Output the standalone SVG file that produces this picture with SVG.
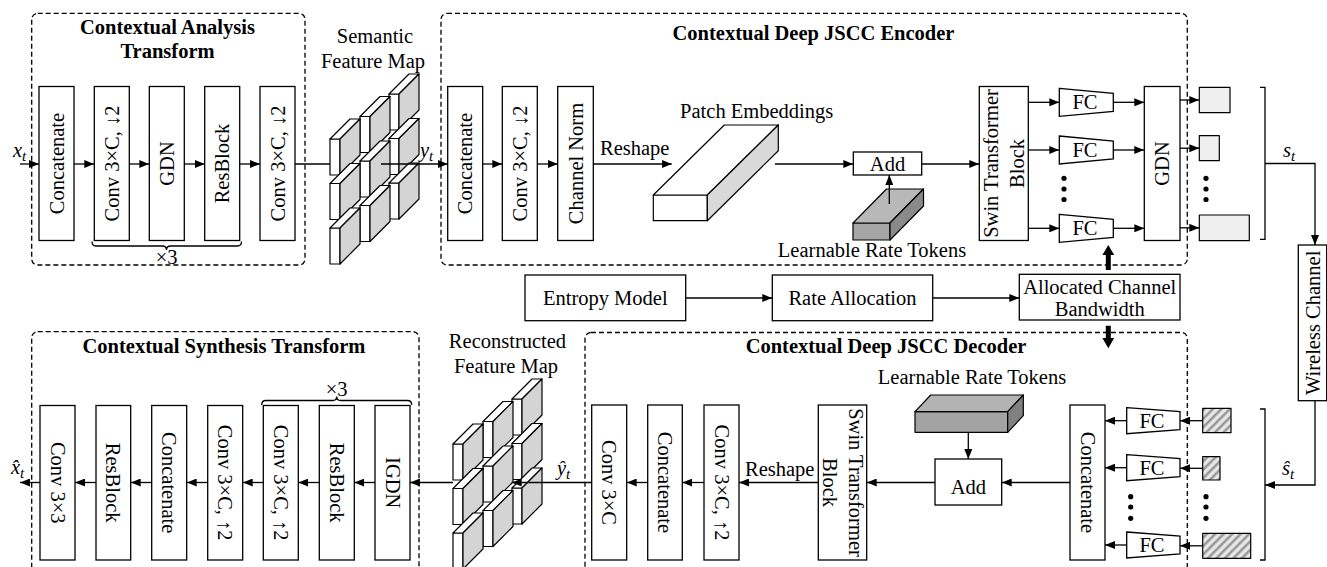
<svg xmlns="http://www.w3.org/2000/svg" width="1327" height="567" viewBox="0 0 1327 567">
<style>
.t{font-family:"Liberation Serif","Times New Roman",serif;font-size:20.5px;fill:#000}
.b{font-weight:bold}
.m{font-style:italic}
.c{text-anchor:middle}
.v{text-anchor:middle;dominant-baseline:central}
.box{fill:#fff;stroke:#000;stroke-width:1.3}
.dash{fill:none;stroke:#000;stroke-width:1.3;stroke-dasharray:5 3}
.ln{fill:none;stroke:#000;stroke-width:1.3}
.arr{marker-end:url(#ah)}
.sk{stroke:#000;stroke-width:1.2;stroke-linejoin:round}
</style>
<defs>
<marker id="ah" viewBox="0 0 10 8" refX="10" refY="4" markerWidth="10" markerHeight="8" orient="auto" markerUnits="userSpaceOnUse"><path d="M0,0 L10,4 L0,8 z" fill="#000"/></marker>
<g id="blk" class="sk"><path d="M0,0h10v36h-10z" fill="#fff"/><path d="M0,0 L10,0 L30,-20 L20,-20z" fill="#fff"/><path d="M10,0 L30,-20 L30,16 L10,36z" fill="#d4d4d4"/></g>
<pattern id="hatch" patternUnits="userSpaceOnUse" width="6" height="6" patternTransform="rotate(45)"><rect width="6" height="6" fill="#cfcfcf"/><rect x="0" width="1.6" height="6" fill="#8a8a8a"/><rect x="3" width="1.6" height="6" fill="#f2f2f2"/></pattern>
</defs>
<rect width="1327" height="567" fill="#fff"/>

<!-- dashed groups -->
<g id="analysis-frame"><rect class="dash" x="31.7" y="13.3" width="273.3" height="251.7" rx="6"/>
<text class="t b c" x="167.5" y="34">Contextual Analysis</text><text class="t b c" x="167.5" y="58">Transform</text></g>
<g id="encoder-frame"><rect class="dash" x="441" y="13.3" width="746.3" height="251.7" rx="6"/>
<text class="t b c" x="813.5" y="40">Contextual Deep JSCC Encoder</text></g>
<g id="synthesis-frame"><rect class="dash" x="31.7" y="331.7" width="387.3" height="250" rx="6"/>
<text class="t b c" x="224" y="353">Contextual Synthesis Transform</text></g>
<g id="decoder-frame"><rect class="dash" x="585" y="332.5" width="602.3" height="250" rx="6"/>
<text class="t b c" x="886" y="353">Contextual Deep JSCC Decoder</text></g>

<!-- analysis transform -->
<g id="a-concat"><rect class="box" x="39" y="86.5" width="35" height="154"/><text class="t v" transform="translate(56.5,163.5) rotate(-90)">Concatenate</text></g>
<g id="a-conv1"><rect class="box" x="94.3" y="86.5" width="35" height="154"/><text class="t v" transform="translate(111.8,163.5) rotate(-90)">Conv 3×C, ↓2</text></g>
<g id="a-gdn"><rect class="box" x="149.3" y="86.5" width="35" height="154"/><text class="t v" transform="translate(166.8,163.5) rotate(-90)">GDN</text></g>
<g id="a-res"><rect class="box" x="204.7" y="86.5" width="35" height="154"/><text class="t v" transform="translate(222.2,163.5) rotate(-90)">ResBlock</text></g>
<g id="a-conv2"><rect class="box" x="260" y="86.5" width="35" height="154"/><text class="t v" transform="translate(277.5,163.5) rotate(-90)">Conv 3×C, ↓2</text></g>
<g id="a-brace"><path class="ln" d="M92,241.5 Q92,246 96,246 H162.5 Q166.5,246 166.5,250 Q166.5,246 170.5,246 H237.5 Q241.5,246 241.5,241.5"/><text class="t c" x="166.7" y="264">×3</text></g>

<!-- semantic feature map -->
<g id="semantic-map">
<text class="t c" x="375" y="43">Semantic</text><text class="t c" x="373" y="68">Feature Map</text>
<use href="#blk" x="389" y="94"/><use href="#blk" x="389" y="138.5"/><use href="#blk" x="389" y="183"/>
<use href="#blk" x="360" y="116.5"/><use href="#blk" x="360" y="161"/><use href="#blk" x="360" y="205.5"/>
<use href="#blk" x="330" y="139"/><use href="#blk" x="330" y="183.5"/><use href="#blk" x="330" y="228"/>
</g>

<!-- encoder -->
<g id="e-concat"><rect class="box" x="447.7" y="86.5" width="35" height="154"/><text class="t v" transform="translate(465.2,163.5) rotate(-90)">Concatenate</text></g>
<g id="e-conv"><rect class="box" x="502.3" y="86.5" width="35" height="154"/><text class="t v" transform="translate(519.8,163.5) rotate(-90)">Conv 3×C, ↓2</text></g>
<g id="e-norm"><rect class="box" x="557.7" y="86.5" width="35.6" height="154"/><text class="t v" transform="translate(575.5,163.5) rotate(-90)">Channel Norm</text></g>
<g id="patch-emb"><text class="t c" x="756.7" y="118">Patch Embeddings</text>
<path class="sk" fill="#fff" d="M653.3,195 H707.3 V220.7 H653.3 Z"/>
<path class="sk" fill="#fff" d="M653.3,195 L707.3,195 L778.3,125 L724.3,125 Z"/>
<path class="sk" fill="#d9d9d9" d="M707.3,195 L778.3,125 L778.3,150.7 L707.3,220.7 Z"/></g>
<g id="e-add"><rect class="box" x="853.3" y="152" width="68.4" height="23"/><text class="t c" x="887.5" y="171">Add</text></g>
<g id="e-tokens"><path class="sk" fill="#a6a6a6" d="M853,223 H890 V240 H853 Z"/>
<path class="sk" fill="#b8b8b8" d="M853,223 L890,223 L923.5,189 L886.5,189 Z"/>
<path class="sk" fill="#8a8a8a" d="M890,223 L923.5,189 L923.5,206 L890,240 Z"/>
<text class="t c" x="872" y="257">Learnable Rate Tokens</text></g>
<g id="e-swin"><rect class="box" x="979.3" y="86.5" width="49" height="154"/><text class="t v" transform="translate(1003.8,163.5) rotate(-90)"><tspan x="0" y="-13">Swin Transformer</tspan><tspan x="0" y="13">Block</tspan></text></g>
<g id="e-fc1"><path class="box" d="M1059.3,88.3 L1113.3,93.3 V111.3 L1059.3,116.3 Z"/><text class="t v" x="1085" y="102.3">FC</text></g>
<g id="e-fc2"><path class="box" d="M1059.3,136 L1113.3,141 V159 L1059.3,164 Z"/><text class="t v" x="1085" y="150">FC</text></g>
<g id="e-fc3"><path class="box" d="M1059.3,214.3 L1113.3,219.3 V237.3 L1059.3,242.3 Z"/><text class="t v" x="1085" y="228.3">FC</text></g>
<g id="e-fcdots" fill="#000"><circle cx="1064" cy="178.3" r="2.6"/><circle cx="1064" cy="189" r="2.6"/><circle cx="1064" cy="199.5" r="2.6"/></g>
<g id="e-gdn"><rect class="box" x="1144.3" y="86.5" width="35.7" height="154"/><text class="t v" transform="translate(1162.2,163.5) rotate(-90)">GDN</text></g>
<g id="e-out" class="sk" fill="#efefef"><rect x="1199.3" y="87.3" width="30.7" height="25.4"/><rect x="1199.3" y="135.7" width="20" height="25"/><rect x="1199.3" y="215" width="50" height="25.7"/></g>
<g id="e-outdots" fill="#000"><circle cx="1206" cy="178.3" r="2.6"/><circle cx="1206" cy="189" r="2.6"/><circle cx="1206" cy="199.5" r="2.6"/></g>
<g id="e-bracket"><path class="ln" d="M1260,87.3 H1265 V239.3 H1260"/></g>
<g id="wireless"><rect class="box" x="1298.3" y="245" width="28.4" height="155.7"/><text class="t v" transform="translate(1312.5,322.8) rotate(-90)">Wireless Channel</text></g>

<!-- middle row -->
<g id="entropy"><rect class="box" x="525" y="275" width="160.7" height="45.7"/><text class="t c" x="605.3" y="305">Entropy Model</text></g>
<g id="rate-alloc"><rect class="box" x="772.3" y="275" width="160.4" height="45.7"/><text class="t c" x="852.5" y="305">Rate Allocation</text></g>
<g id="bandwidth"><rect class="box" x="1019.3" y="274.3" width="160.7" height="45.7"/><text class="t c" x="1099.7" y="293.5">Allocated Channel</text><text class="t c" x="1099.7" y="315.5">Bandwidth</text></g>

<!-- decoder -->
<g id="d-hatch" class="sk" fill="url(#hatch)"><rect x="1202.7" y="408.3" width="28.3" height="24.4"/><rect x="1202.7" y="456.7" width="17.3" height="23.3"/><rect x="1202.7" y="533.3" width="48" height="25"/></g>
<g id="d-hatchdots" fill="#000"><circle cx="1206" cy="496.7" r="2.6"/><circle cx="1206" cy="507" r="2.6"/><circle cx="1206" cy="518.3" r="2.6"/></g>
<g id="d-bracket"><path class="ln" d="M1260,409 H1265 V560 H1260"/></g>
<g id="d-fc1"><path class="box" d="M1126.7,407.7 L1180,411.7 V429.7 L1126.7,433.7 Z"/><text class="t v" x="1152" y="420.7">FC</text></g>
<g id="d-fc2"><path class="box" d="M1126.7,454.7 L1180,458.7 V476.7 L1126.7,480.7 Z"/><text class="t v" x="1152" y="467.7">FC</text></g>
<g id="d-fc3"><path class="box" d="M1126.7,532 L1180,536 V554 L1126.7,558 Z"/><text class="t v" x="1152" y="545">FC</text></g>
<g id="d-fcdots" fill="#000"><circle cx="1130.7" cy="496.7" r="2.6"/><circle cx="1130.7" cy="507" r="2.6"/><circle cx="1130.7" cy="518.3" r="2.6"/></g>
<g id="d-concat"><rect class="box" x="1070" y="405" width="35" height="155"/><text class="t v" transform="translate(1087.5,482.5) rotate(90)">Concatenate</text></g>
<g id="d-tokens"><text class="t c" x="972" y="384">Learnable Rate Tokens</text>
<path class="sk" fill="#a3a3a3" d="M915,411.7 H1007.7 V432.3 H915 Z"/>
<path class="sk" fill="#b3b3b3" d="M915,411.7 L1007.7,411.7 L1023.3,395 L930.7,395 Z"/>
<path class="sk" fill="#808080" d="M1007.7,411.7 L1023.3,395 L1023.3,415.7 L1007.7,432.3 Z"/></g>
<g id="d-add"><rect class="box" x="935" y="459" width="66.7" height="46"/><text class="t c" x="968.3" y="494">Add</text></g>
<g id="d-swin"><rect class="box" x="818.3" y="405" width="48.4" height="155"/><text class="t v" transform="translate(842.5,482.5) rotate(90)"><tspan x="0" y="-13">Swin Transformer</tspan><tspan x="0" y="13">Block</tspan></text></g>
<g id="d-conv2"><rect class="box" x="704" y="405" width="35" height="155"/><text class="t v" transform="translate(721.5,482.5) rotate(90)">Conv 3×C, ↑2</text></g>
<g id="d-concat2"><rect class="box" x="647.7" y="405" width="34.6" height="155"/><text class="t v" transform="translate(665,482.5) rotate(90)">Concatenate</text></g>
<g id="d-conv1"><rect class="box" x="591.7" y="405" width="35" height="155"/><text class="t v" transform="translate(609.2,482.5) rotate(90)">Conv 3×C</text></g>

<!-- reconstructed feature map -->
<g id="recon-map">
<text class="t c" x="507.5" y="348">Reconstructed</text><text class="t c" x="506" y="373">Feature Map</text>
<use href="#blk" x="512" y="399"/><use href="#blk" x="512" y="443.5"/><use href="#blk" x="512" y="488"/>
<use href="#blk" x="483" y="421.5"/><use href="#blk" x="483" y="466"/><use href="#blk" x="483" y="510.5"/>
<use href="#blk" x="453" y="444"/><use href="#blk" x="453" y="488.5"/><use href="#blk" x="453" y="533"/>
</g>

<!-- synthesis transform -->
<g id="s-conv33"><rect class="box" x="40" y="405.5" width="35" height="154.5"/><text class="t v" transform="translate(57.5,482.7) rotate(90)">Conv 3×3</text></g>
<g id="s-res1"><rect class="box" x="96" y="405.5" width="34.7" height="154.5"/><text class="t v" transform="translate(113.3,482.7) rotate(90)">ResBlock</text></g>
<g id="s-concat"><rect class="box" x="151.7" y="405.5" width="35" height="154.5"/><text class="t v" transform="translate(169.2,482.7) rotate(90)">Concatenate</text></g>
<g id="s-conv1"><rect class="box" x="207.7" y="405.5" width="35" height="154.5"/><text class="t v" transform="translate(225.2,482.7) rotate(90)">Conv 3×C, ↑2</text></g>
<g id="s-conv2"><rect class="box" x="263.3" y="405.5" width="35" height="154.5"/><text class="t v" transform="translate(280.8,482.7) rotate(90)">Conv 3×C, ↑2</text></g>
<g id="s-res2"><rect class="box" x="319.3" y="405.5" width="35" height="154.5"/><text class="t v" transform="translate(336.8,482.7) rotate(90)">ResBlock</text></g>
<g id="s-igdn"><rect class="box" x="375" y="405.5" width="35" height="154.5"/><text class="t v" transform="translate(392.5,482.7) rotate(90)">IGDN</text></g>
<g id="s-brace"><path class="ln" d="M261.7,405 Q261.7,400.5 265.7,400.5 H332.7 Q336.7,400.5 336.7,396.5 Q336.7,400.5 340.7,400.5 H407.7 Q411.7,400.5 411.7,405"/><text class="t c" x="336.7" y="396">×3</text></g>

<!-- math labels -->
<g id="labels">
<text class="t m" x="13" y="157">x<tspan dy="4" font-size="15">t</tspan></text>
<text class="t m" x="420" y="157">y<tspan dy="4" font-size="15">t</tspan></text>
<text class="t m" x="1283" y="157">s<tspan dy="4" font-size="15">t</tspan></text>
<text class="t m" x="1282" y="475">ŝ<tspan dy="4" font-size="15">t</tspan></text>
<text class="t m" x="557" y="475">ŷ<tspan dy="4" font-size="15">t</tspan></text>
<text class="t m" x="11" y="474">x̂<tspan dy="4" font-size="15">t</tspan></text>
<text class="t" x="600" y="155">Reshape</text>
<text class="t" x="745" y="476">Reshape</text>
</g>

<!-- connectors -->
<g id="connectors">
<path class="ln arr" d="M20,164 H39"/>
<path class="ln arr" d="M74,164 H94.3"/>
<path class="ln arr" d="M129.3,164 H149.3"/>
<path class="ln arr" d="M184.3,164 H204.7"/>
<path class="ln arr" d="M239.7,164 H260"/>
<path class="ln" d="M295,164 H330"/>
<path class="ln arr" d="M381,164 H447.7"/>
<path class="ln arr" d="M482.7,164 H502.3"/>
<path class="ln arr" d="M537.3,164 H557.7"/>
<path class="ln arr" d="M593.3,164 H671.7"/>
<path class="ln arr" d="M775,164 H853.3"/>
<path class="ln arr" d="M889.3,204 V175"/>
<path class="ln arr" d="M921.7,164 H979.3"/>
<path class="ln arr" d="M1028.3,102.3 H1059.3"/>
<path class="ln arr" d="M1028.3,150 H1059.3"/>
<path class="ln arr" d="M1028.3,228.3 H1059.3"/>
<path class="ln arr" d="M1113.3,102.3 H1144.3"/>
<path class="ln arr" d="M1113.3,150 H1144.3"/>
<path class="ln arr" d="M1113.3,228.3 H1144.3"/>
<path class="ln arr" d="M1180,100 H1199.3"/>
<path class="ln arr" d="M1180,148.2 H1199.3"/>
<path class="ln arr" d="M1180,227.8 H1199.3"/>
<path class="ln arr" d="M1265,163.5 H1315 V245"/>
<path class="ln arr" d="M1315,400.7 V485 H1265"/>
<path class="ln arr" d="M685.7,298 H772.3"/>
<path class="ln arr" d="M932.7,298 H1019.3"/>
<path fill="#000" d="M1105.8,270 V255 H1102.4 L1108.3,245 L1114.2,255 H1110.8 V270 Z"/>
<path fill="#000" d="M1105.8,325.7 V338 H1102.4 L1108.3,348.3 L1114.2,338 H1110.8 V325.7 Z"/>
<path class="ln arr" d="M1202.7,420.7 H1180"/>
<path class="ln arr" d="M1202.7,468.3 H1180"/>
<path class="ln arr" d="M1202.7,545.8 H1180"/>
<path class="ln arr" d="M1126.7,420.7 H1105"/>
<path class="ln arr" d="M1126.7,467.7 H1105"/>
<path class="ln arr" d="M1126.7,545 H1105"/>
<path class="ln arr" d="M968.3,432.3 V459"/>
<path class="ln arr" d="M1070,482.5 H1001.7"/>
<path class="ln arr" d="M935,482.5 H866.7"/>
<path class="ln arr" d="M818.3,482.5 H739"/>
<path class="ln arr" d="M704,482.5 H682.3"/>
<path class="ln arr" d="M647.7,482.5 H626.7"/>
<path class="ln arr" d="M591.7,482.5 H511.7"/>
<path class="ln arr" d="M453,482.5 H410"/>
<path class="ln arr" d="M375,482.5 H354.3"/>
<path class="ln arr" d="M319.3,482.5 H298.3"/>
<path class="ln arr" d="M263.3,482.5 H242.7"/>
<path class="ln arr" d="M207.7,482.5 H186.7"/>
<path class="ln arr" d="M151.7,482.5 H130.7"/>
<path class="ln arr" d="M96,482.5 H75"/>
<path class="ln arr" d="M40,482.5 H20"/>
</g>
</svg>
